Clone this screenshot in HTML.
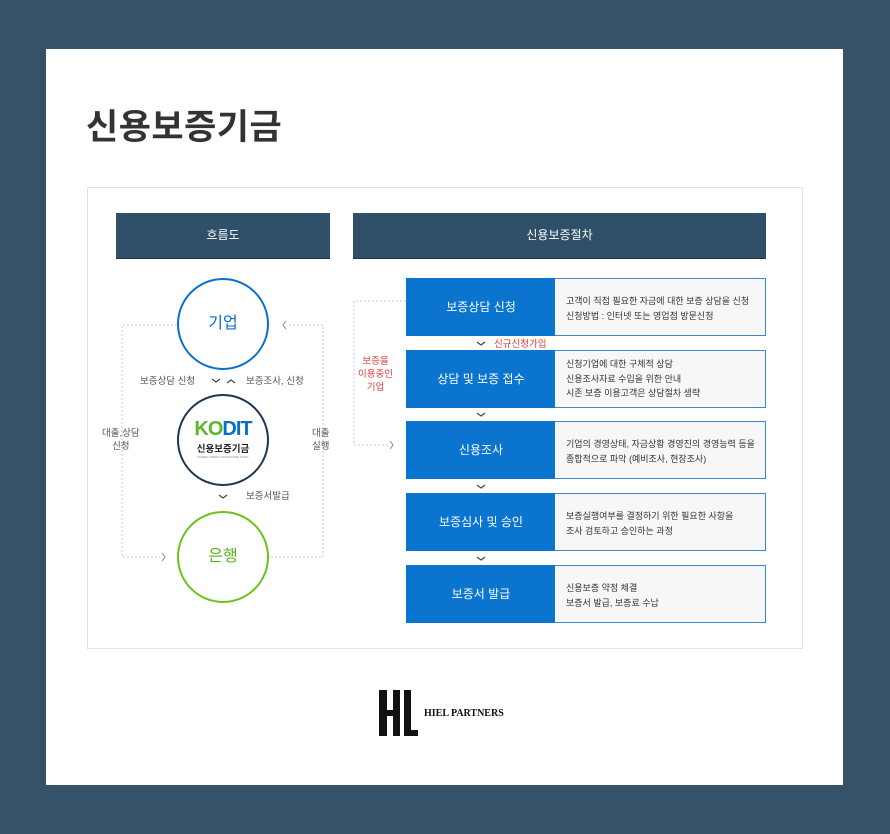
<!DOCTYPE html>
<html><head><meta charset="utf-8"><style>
*{margin:0;padding:0;box-sizing:border-box}
body{width:890px;height:834px;background:#355268;position:relative;overflow:hidden;font-family:"Liberation Sans","Noto Sans CJK KR",sans-serif}
.a{position:absolute}
.card{left:46px;top:49px;width:797px;height:736px;background:#fff}
.title{left:86px;top:99px;font-size:35px;font-weight:bold;color:#333;letter-spacing:0.5px}
.inner{left:87px;top:187px;width:716px;height:462px;border:1px solid #e2e2e2}
.hd{background:#2f5068;color:#fff;font-size:12px;text-align:center;line-height:45px;height:46px;border-bottom:1px solid #1d3547}
.circ{width:92px;height:92px;border-radius:50%;text-align:center;line-height:88px;font-size:16px}
.lbl{font-size:9.5px;color:#555;text-align:center;line-height:13px}
.step{background:#0a74cf;color:#fff;font-size:12px;text-align:center;width:150px;height:58px;line-height:58px}
.desc{background:#f7f7f7;border:1px solid #3b88d3;border-left:none;width:211px;height:58px;font-size:9px;color:#333;padding:15px 0 0 11px;line-height:15px}
</style></head><body>
<div class="a card"></div>
<div class="a title">신용보증기금</div>
<div class="a inner"></div>
<div class="a hd" style="left:116px;top:213px;width:214px">흐름도</div>
<div class="a hd" style="left:353px;top:213px;width:413px">신용보증절차</div>

<svg class="a" style="left:0;top:0" width="890" height="834">
<g fill="none" stroke="#c8c8c8" stroke-dasharray="2,2" stroke-width="1">
<path d="M177 325H122V557H160"/>
<path d="M289 325H323V557H270"/>
<path d="M406 301H354V445H388"/>
</g>
<g fill="none" stroke="#7a8a9a" stroke-width="1">
<path d="M162 553l3 4-3 4"/><path d="M286 321l-3 4 3 4"/><path d="M390 441l3 4-3 4"/>
</g>
<g fill="none" stroke="#444" stroke-width="1.2">
<path d="M212 379l4 3 4-3"/><path d="M227 383l4-3 4 3"/><path d="M219 495l4 3 4-3"/>
<path d="M477 342l4 3 4-3"/><path d="M477 413l4 3 4-3"/><path d="M477 485l4 3 4-3"/><path d="M477 557l4 3 4-3"/>
</g>
</svg>

<div class="a circ" style="left:177px;top:278px;border:2px solid #0a6fc9;color:#0a6fc9">기업</div>
<div class="a circ" style="left:177px;top:394px;border:2px solid #1c3550;line-height:normal">
<div style="margin-top:22px;font-size:20px;font-weight:bold;letter-spacing:-1px"><span style="color:#5ab82a">K</span><span style="color:#5ab82a">O</span><span style="color:#0a6fc9">DIT</span></div>
<div style="font-size:9.5px;color:#222;font-weight:bold">신용보증기금</div>
<div style="font-size:3px;color:#888">KOREA CREDIT GUARANTEE FUND</div></div>
<div class="a circ" style="left:177px;top:511px;border:2px solid #6cc11a;color:#5ab020">은행</div>

<div class="a lbl" style="left:140px;top:375px">보증상담 신청</div>
<div class="a lbl" style="left:246px;top:375px">보증조사, 신청</div>
<div class="a lbl" style="left:246px;top:490px">보증서발급</div>
<div class="a lbl" style="left:102px;top:427px">대출,상담<br>신청</div>
<div class="a lbl" style="left:312px;top:427px">대출<br>실행</div>
<div class="a lbl" style="left:358px;top:355px;color:#e8383a">보증을<br>이용중인<br>기업</div>
<div class="a lbl" style="left:494px;top:338px;color:#e8383a">신규신청가입</div>

<div class="a step" style="left:406px;top:278px">보증상담 신청</div>
<div class="a desc" style="left:555px;top:278px">고객이 직접 필요한 자금에 대한 보증 상담을 신청<br>신청방법 : 인터넷 또는 영업점 방문신청</div>
<div class="a step" style="left:406px;top:350px">상담 및 보증 접수</div>
<div class="a desc" style="left:555px;top:350px;padding-top:6px;line-height:14.5px">신청기업에 대한 구체적 상담<br>신용조사자료 수입을 위한 안내<br>시존 보증 이용고객은 상담절차 생략</div>
<div class="a step" style="left:406px;top:421px">신용조사</div>
<div class="a desc" style="left:555px;top:421px">기업의 경영상태, 자금상황 경영진의 경영능력 등을<br>종합적으로 파악 (예비조사, 현장조사)</div>
<div class="a step" style="left:406px;top:493px">보증심사 및 승인</div>
<div class="a desc" style="left:555px;top:493px">보증실행여부를 결정하기 위한 필요한 사항을<br>조사 검토하고 승인하는 과정</div>
<div class="a step" style="left:406px;top:565px">보증서 발급</div>
<div class="a desc" style="left:555px;top:565px">신용보증 약정 체결<br>보증서 발급, 보증료 수납</div>

<div class="a" style="left:379px;top:690px;width:39px;height:46px">
<div class="a" style="left:0;top:0;width:8px;height:46px;background:#111"></div>
<div class="a" style="left:14px;top:0;width:7px;height:46px;background:#111"></div>
<div class="a" style="left:5px;top:20px;width:12px;height:6px;background:#111"></div>
<div class="a" style="left:25px;top:0;width:7px;height:46px;background:#111"></div>
<div class="a" style="left:25px;top:40px;width:14px;height:6px;background:#111"></div>
</div>
<div class="a" style="left:424px;top:708px;font-family:'Liberation Serif',serif;font-weight:bold;font-size:10px;color:#111">HIEL PARTNERS</div>
</body></html>
